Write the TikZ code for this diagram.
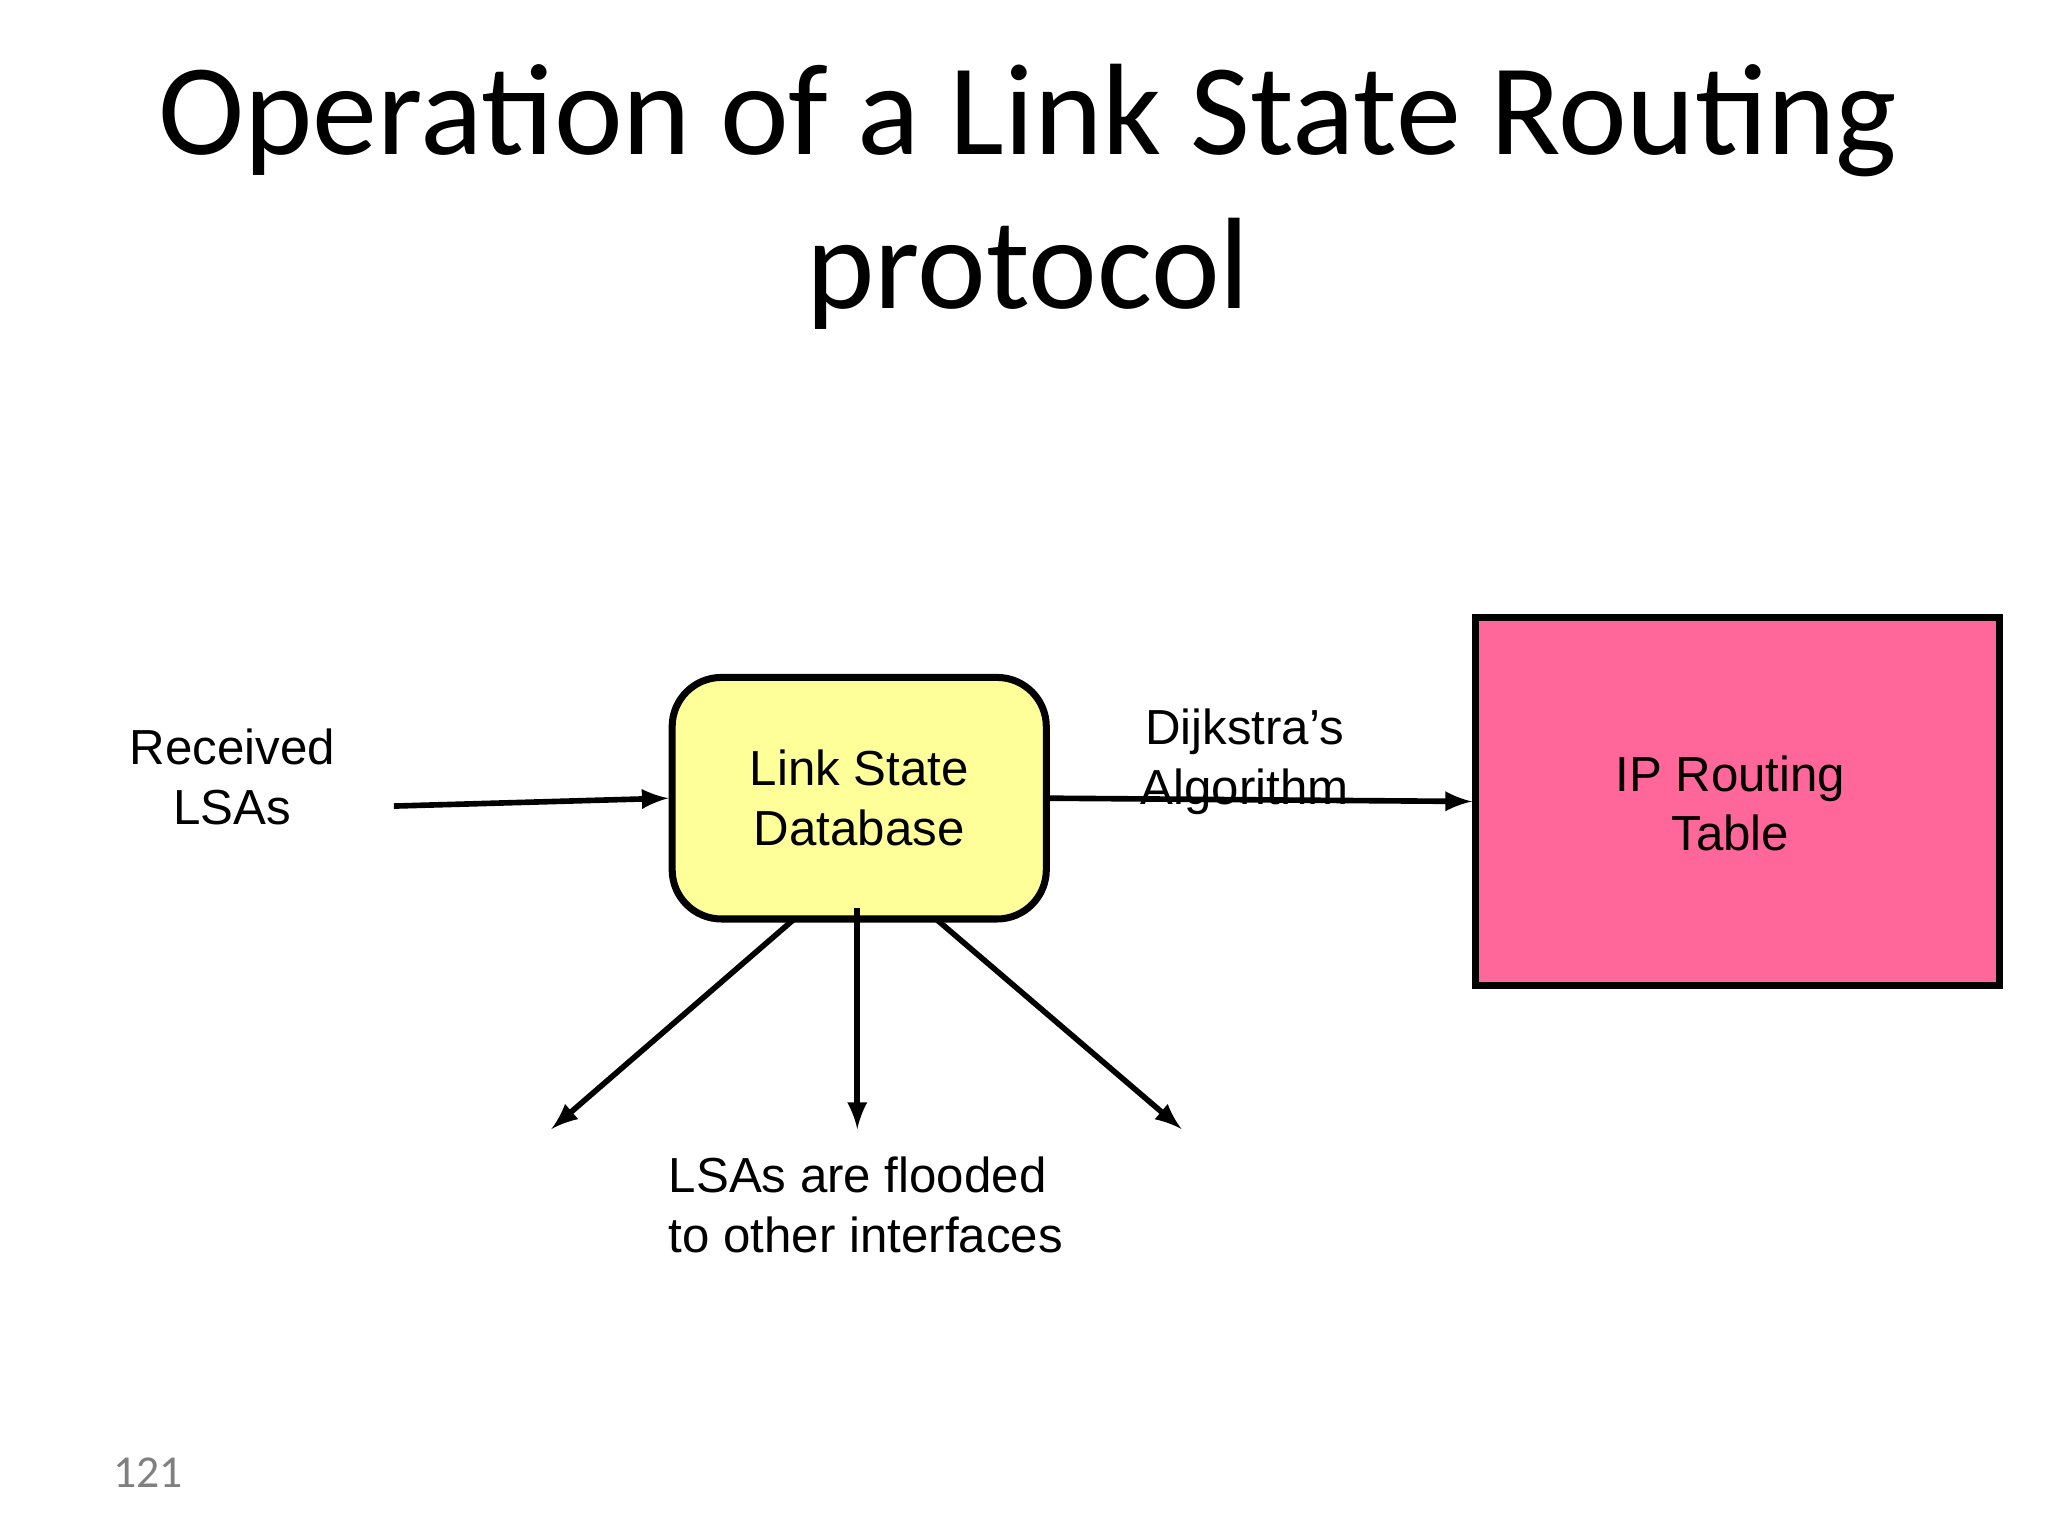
\documentclass[tikz,border=0pt]{standalone}
\usepackage{fontspec}
\setmainfont{Liberation Sans}
\newfontfamily\carlitofont{Carlito}
\begin{document}
\begin{tikzpicture}[x=0.01313cm,y=-0.01313cm,
  lbl/.style={font=\fontsize{14pt}{17pt}\selectfont,align=center},
  arr/.style={line width=1.6pt,-latex}]
\useasboundingbox (0,0) rectangle (1560,1170);
\node[font=\carlitofont\fontsize{37pt}{44pt}\selectfont,align=center] (title) at (783,150) {Operation of a Link State Routing\\protocol};
\node[draw,line width=2pt,rounded corners=14pt,fill={rgb,255:red,255;green,255;blue,153},minimum width=285*0.01313cm,minimum height=184*0.01313cm,lbl] (db) at (654.5,608) {Link State\\Database};
\node[draw,line width=2pt,fill={rgb,255:red,255;green,102;blue,153},minimum width=399*0.01313cm,minimum height=281*0.01313cm,lbl] (ip) at (1323.5,610.5) {};
\node[lbl] (iptxt) at (1318,612) {IP Routing\\Table};
\node[lbl] (rx) at (177,592) {Received\\LSAs};
\coordinate (rs) at (300,614);
\draw[arr] (rs) -- (db.west);
\draw[arr] (db.east) -- (ip.west);
\node[lbl] (dj) at (948,580) {Dijkstra’s\\Algorithm};
\coordinate (s1) at (605,700); \coordinate (e1) at (420,860);
\coordinate (s2) at (653,692); \coordinate (e2) at (653,860);
\coordinate (s3) at (713,700); \coordinate (e3) at (900,860);
\draw[arr] (s1) -- (e1);
\draw[arr] (s2) -- (e2);
\draw[arr] (s3) -- (e3);
\node[lbl,align=left,anchor=west] (fl) at (500,918) {LSAs are flooded\\to other interfaces};
\node[font=\carlitofont\fontsize{13pt}{15pt}\selectfont,text=gray] (pg) at (113,1122) {121};
\end{tikzpicture}
\end{document}
